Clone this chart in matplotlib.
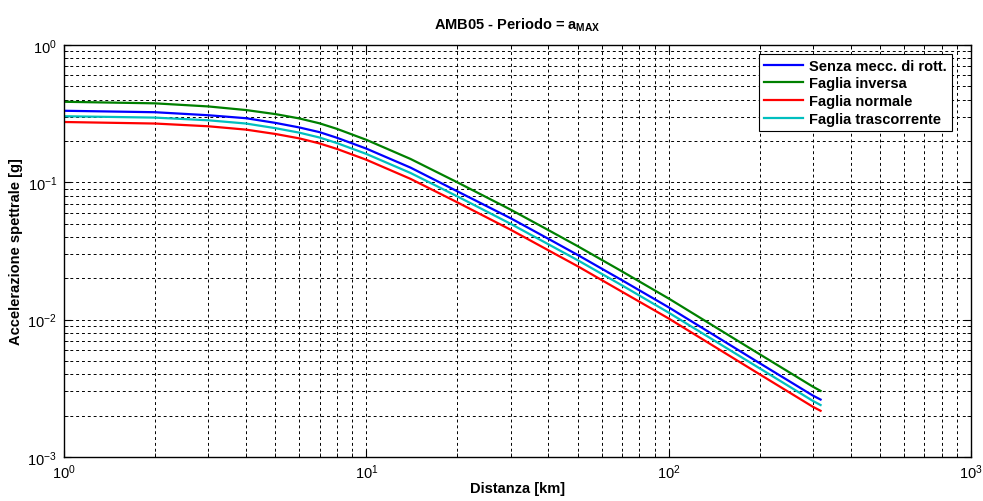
import matplotlib
matplotlib.use("Agg")
import matplotlib.pyplot as plt
from matplotlib.ticker import LogLocator, NullFormatter

plt.rcParams['font.family'] = ['Liberation Sans', 'DejaVu Sans']
plt.rcParams['mathtext.fontset'] = 'custom'
plt.rcParams['mathtext.rm'] = 'Liberation Sans'
plt.rcParams['mathtext.it'] = 'Liberation Sans'
plt.rcParams['mathtext.bf'] = 'Liberation Sans:bold'

distance = [1, 2, 3, 4, 5, 6, 7, 8, 10, 14, 20, 30, 40, 50, 70, 100, 200, 300, 318]
senza = [0.332, 0.324, 0.308, 0.293, 0.271, 0.251, 0.232, 0.211, 0.176, 0.128, 0.086, 0.0548,
         0.0388, 0.0296, 0.0194, 0.0123, 0.00482, 0.0028, 0.00262]
inversa = [0.386, 0.376, 0.357, 0.336, 0.314, 0.292, 0.269, 0.245, 0.204, 0.148, 0.100, 0.0633,
           0.0449, 0.0343, 0.0225, 0.01426, 0.0056, 0.00325, 0.00303]
normale = [0.275, 0.268, 0.256, 0.242, 0.225, 0.209, 0.192, 0.175, 0.146, 0.106, 0.0715, 0.0452,
           0.032, 0.0245, 0.016, 0.0102, 0.0040, 0.00232, 0.00217]
trascorrente = [0.303, 0.296, 0.283, 0.268, 0.248, 0.230, 0.212, 0.193, 0.161, 0.117, 0.079,
                0.0499, 0.0354, 0.0271, 0.0178, 0.01125, 0.00442, 0.00256, 0.00239]

labels = ["Senza mecc. di rott.", "Faglia inversa", "Faglia normale", "Faglia trascorrente"]
series = [senza, inversa, normale, trascorrente]
colors = ["#0000ff", "#008000", "#ff0000", "#00bfbf"]

fig = plt.figure(figsize=(9.83, 5.02), dpi=100)
ax = fig.add_axes([64/983, 1 - 458/502, (971-64)/983, (458-46)/502])

for lab, ys, c in zip(labels, series, colors):
    ax.plot(distance, ys, color=c, lw=1.6, label=lab)

ax.set_xscale('log')
ax.set_yscale('log')
ax.set_xlim(1, 1000)
ax.set_ylim(1e-3, 1)

ax.xaxis.set_minor_locator(LogLocator(base=10, subs=range(2, 10)))
ax.yaxis.set_minor_locator(LogLocator(base=10, subs=range(2, 10)))
ax.xaxis.set_minor_formatter(NullFormatter())
ax.yaxis.set_minor_formatter(NullFormatter())

ax.grid(True, which='both', color='black', linestyle=(0, (3, 3)), linewidth=0.7)
ax.tick_params(which='both', direction='in', top=True, right=True, labelsize=10.5)
ax.tick_params(axis='x', which='major', length=5, pad=4)
ax.tick_params(axis='y', which='major', length=5, pad=5)
ax.tick_params(which='minor', length=3)
for s in ax.spines.values():
    s.set_linewidth(1.0)

ax.set_xlabel("Distanza [km]", fontsize=10.5, fontweight='bold', labelpad=0)
ax.set_ylabel("Accelerazione spettrale [g]", fontsize=10.5, fontweight='bold', labelpad=3)
ax.set_title(r"AMB05 - Periodo = a$_{\mathbf{MAX}}$", fontsize=10.5, fontweight='bold', pad=12)

leg = ax.legend(loc='upper right', bbox_to_anchor=(0.979, 0.979), fontsize=10.5,
                frameon=True, fancybox=False, edgecolor='black', framealpha=1,
                handlelength=2.7, handletextpad=0.4, borderpad=0.35, labelspacing=0.25,
                borderaxespad=0.0)
leg.get_frame().set_linewidth(0.8)
for t in leg.get_texts():
    t.set_fontweight('bold')

fig.savefig("out.png", dpi=100)
